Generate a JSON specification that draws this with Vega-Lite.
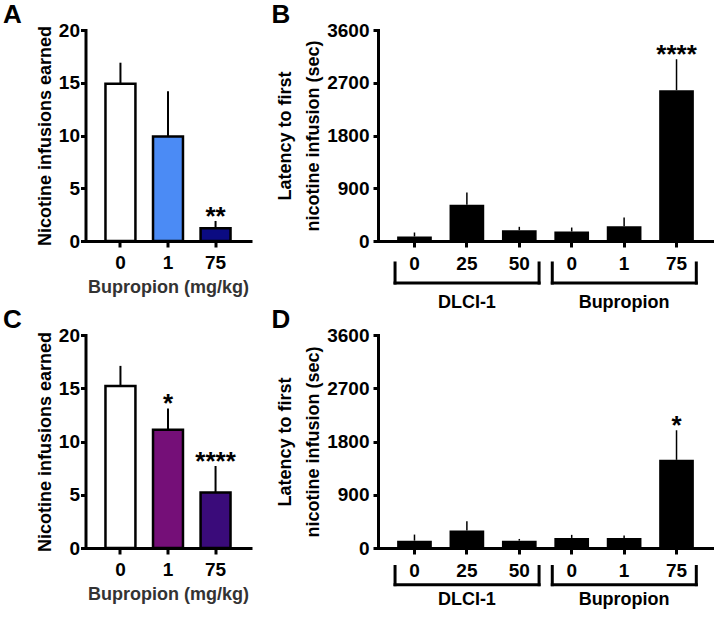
{
  "$schema": "https://vega.github.io/schema/vega-lite/v6.json",
  "background": "white",
  "padding": {"left": 2.5, "top": 2, "right": 0, "bottom": 0},
  "datasets": {
    "panelA": [
      {"dose": "0", "mean": 14.9, "upper": 16.9, "star": ""},
      {"dose": "1", "mean": 9.9, "upper": 14.2, "star": ""},
      {"dose": "75", "mean": 1.2, "upper": 1.9, "star": "**"}
    ],
    "panelC": [
      {"dose": "0", "mean": 15.2, "upper": 17.1, "star": ""},
      {"dose": "1", "mean": 11.1, "upper": 13.1, "star": "*"},
      {"dose": "75", "mean": 5.2, "upper": 7.7, "star": "****"}
    ],
    "panelB": [
      {"key": "D0", "group": "DLCI-1", "mean": 77, "upper": 145, "star": ""},
      {"key": "D25", "group": "DLCI-1", "mean": 618, "upper": 827, "star": ""},
      {"key": "D50", "group": "DLCI-1", "mean": 184, "upper": 242, "star": ""},
      {"key": "B0", "group": "Bupropion", "mean": 162, "upper": 230, "star": ""},
      {"key": "B1", "group": "Bupropion", "mean": 252, "upper": 401, "star": ""},
      {"key": "B75", "group": "Bupropion", "mean": 2573, "upper": 3101, "star": "****"}
    ],
    "panelD": [
      {"key": "D0", "group": "DLCI-1", "mean": 124, "upper": 227, "star": ""},
      {"key": "D25", "group": "DLCI-1", "mean": 295, "upper": 454, "star": ""},
      {"key": "D50", "group": "DLCI-1", "mean": 124, "upper": 153, "star": ""},
      {"key": "B0", "group": "Bupropion", "mean": 170, "upper": 222, "star": ""},
      {"key": "B1", "group": "Bupropion", "mean": 170, "upper": 210, "star": ""},
      {"key": "B75", "group": "Bupropion", "mean": 1490, "upper": 1990, "star": "*"}
    ],
    "brackets": [
      {"group": "DLCI-1", "first": "D0", "last": "D50", "mid": "D25"},
      {"group": "Bupropion", "first": "B0", "last": "B75", "mid": "B1"}
    ]
  },
  "columns": 2,
  "spacing": {"row": -5, "column": 20.5},
  "resolve": {"scale": {"x": "independent", "y": "independent", "fill": "independent"}},
  "concat": [
    {
      "title": {"text": "A", "dx": -82.5},
      "width": 165,
      "height": 211,
      "data": {"name": "panelA"},
      "encoding": {
        "x": {"field": "dose", "type": "nominal", "sort": null,
          "scale": {"domain": ["0", "1", "75"], "paddingInner": 0.37, "paddingOuter": 0.42},
          "axis": {"labelAngle": 0, "tickSize": 6, "labelPadding": 6, "title": "Bupropion (mg/kg)", "titleColor": "#333333", "titlePadding": 6}}
      },
      "layer": [
        {"mark": {"type": "bar", "stroke": "black", "strokeWidth": 2.5},
          "encoding": {
            "y": {"field": "mean", "type": "quantitative", "scale": {"domain": [0, 20], "nice": false},
              "axis": {"values": [0, 5, 10, 15, 20], "tickSize": 5, "labelPadding": 1, "title": "Nicotine infusions earned", "titlePadding": 4}},
            "fill": {"field": "dose", "type": "nominal", "scale": {"domain": ["0", "1", "75"], "range": ["#ffffff", "#4b8bf5", "#0b0b82"]}, "legend": null}
          }},
        {"mark": {"type": "rule", "strokeWidth": 2, "color": "black"},
          "encoding": {"y": {"field": "mean", "type": "quantitative"}, "y2": {"field": "upper"}}},
        {"mark": {"type": "text", "fontSize": 26, "fontWeight": "bold", "baseline": "alphabetic", "dy": 4, "color": "black"},
          "encoding": {"y": {"field": "upper", "type": "quantitative"}, "text": {"field": "star"}}}
      ]
    },
    {
      "title": {"text": "B", "dx": -106.5},
      "width": 335,
      "height": 211,
      "layer": [
        {"data": {"name": "panelB"}, "mark": {"type": "bar", "color": "black"},
          "encoding": {
            "x": {"field": "key", "type": "nominal", "title": null,
              "scale": {"domain": ["D0", "D25", "D50", "B0", "B1", "B75"], "paddingInner": 0.338, "paddingOuter": 0.365},
              "axis": {"labelExpr": "slice(datum.value, 1)", "labelAngle": 0, "tickSize": 6, "labelPadding": 7, "title": null}},
            "y": {"field": "mean", "type": "quantitative", "scale": {"domain": [0, 3600], "nice": false},
              "axis": {"values": [0, 900, 1800, 2700, 3600], "format": "d", "tickSize": 5, "labelPadding": 4, "title": ["Latency to first", "nicotine infusion (sec)"], "titleLineHeight": 28, "titlePadding": 4}}
          }},
        {"data": {"name": "panelB"}, "mark": {"type": "rule", "strokeWidth": 1.5, "color": "black"},
          "encoding": {"x": {"field": "key", "type": "nominal", "title": null}, "y": {"field": "mean", "type": "quantitative"}, "y2": {"field": "upper"}}},
        {"data": {"name": "panelB"}, "mark": {"type": "text", "fontSize": 26, "fontWeight": "bold", "baseline": "alphabetic", "dy": 4, "color": "black"},
          "encoding": {"x": {"field": "key", "type": "nominal", "title": null}, "y": {"field": "upper", "type": "quantitative"}, "text": {"field": "star"}}},
        {"data": {"name": "brackets"}, "mark": {"type": "rule", "strokeWidth": 3, "strokeCap": "square", "color": "black"},
          "encoding": {"x": {"field": "first", "type": "nominal", "bandPosition": -0.06, "title": null}, "x2": {"field": "last", "bandPosition": 1.07}, "y": {"datum": -717}}},
        {"data": {"name": "brackets"}, "mark": {"type": "rule", "strokeWidth": 3, "strokeCap": "square", "color": "black"},
          "encoding": {"x": {"field": "first", "type": "nominal", "bandPosition": -0.06, "title": null}, "y": {"datum": -375}, "y2": {"datum": -717}}},
        {"data": {"name": "brackets"}, "mark": {"type": "rule", "strokeWidth": 3, "strokeCap": "square", "color": "black"},
          "encoding": {"x": {"field": "last", "type": "nominal", "bandPosition": 1.07, "title": null}, "y": {"datum": -375}, "y2": {"datum": -717}}},
        {"data": {"name": "brackets"}, "mark": {"type": "text", "fontSize": 18, "fontWeight": "bold", "baseline": "middle", "color": "black"},
          "encoding": {"x": {"field": "mid", "type": "nominal", "title": null}, "y": {"datum": -1050}, "text": {"field": "group"}}}
      ]
    },
    {
      "title": {"text": "C", "dx": -82.5},
      "width": 165,
      "height": 213,
      "data": {"name": "panelC"},
      "encoding": {
        "x": {"field": "dose", "type": "nominal", "sort": null,
          "scale": {"domain": ["0", "1", "75"], "paddingInner": 0.37, "paddingOuter": 0.42},
          "axis": {"labelAngle": 0, "tickSize": 6, "labelPadding": 6, "title": "Bupropion (mg/kg)", "titleColor": "#333333", "titlePadding": 6}}
      },
      "layer": [
        {"mark": {"type": "bar", "stroke": "black", "strokeWidth": 2.5},
          "encoding": {
            "y": {"field": "mean", "type": "quantitative", "scale": {"domain": [0, 20], "nice": false},
              "axis": {"values": [0, 5, 10, 15, 20], "tickSize": 5, "labelPadding": 1, "title": "Nicotine infusions earned", "titlePadding": 4}},
            "fill": {"field": "dose", "type": "nominal", "scale": {"domain": ["0", "1", "75"], "range": ["#ffffff", "#750f78", "#3a0b7a"]}, "legend": null}
          }},
        {"mark": {"type": "rule", "strokeWidth": 2, "color": "black"},
          "encoding": {"y": {"field": "mean", "type": "quantitative"}, "y2": {"field": "upper"}}},
        {"mark": {"type": "text", "fontSize": 26, "fontWeight": "bold", "baseline": "alphabetic", "dy": 4, "color": "black"},
          "encoding": {"y": {"field": "upper", "type": "quantitative"}, "text": {"field": "star"}}}
      ]
    },
    {
      "title": {"text": "D", "dx": -106.5},
      "width": 335,
      "height": 213,
      "layer": [
        {"data": {"name": "panelD"}, "mark": {"type": "bar", "color": "black"},
          "encoding": {
            "x": {"field": "key", "type": "nominal", "title": null,
              "scale": {"domain": ["D0", "D25", "D50", "B0", "B1", "B75"], "paddingInner": 0.338, "paddingOuter": 0.365},
              "axis": {"labelExpr": "slice(datum.value, 1)", "labelAngle": 0, "tickSize": 6, "labelPadding": 7, "title": null}},
            "y": {"field": "mean", "type": "quantitative", "scale": {"domain": [0, 3600], "nice": false},
              "axis": {"values": [0, 900, 1800, 2700, 3600], "format": "d", "tickSize": 5, "labelPadding": 4, "title": ["Latency to first", "nicotine infusion (sec)"], "titleLineHeight": 28, "titlePadding": 4}}
          }},
        {"data": {"name": "panelD"}, "mark": {"type": "rule", "strokeWidth": 1.5, "color": "black"},
          "encoding": {"x": {"field": "key", "type": "nominal", "title": null}, "y": {"field": "mean", "type": "quantitative"}, "y2": {"field": "upper"}}},
        {"data": {"name": "panelD"}, "mark": {"type": "text", "fontSize": 26, "fontWeight": "bold", "baseline": "alphabetic", "dy": 4, "color": "black"},
          "encoding": {"x": {"field": "key", "type": "nominal", "title": null}, "y": {"field": "upper", "type": "quantitative"}, "text": {"field": "star"}}},
        {"data": {"name": "brackets"}, "mark": {"type": "rule", "strokeWidth": 3, "strokeCap": "square", "color": "black"},
          "encoding": {"x": {"field": "first", "type": "nominal", "bandPosition": -0.06, "title": null}, "x2": {"field": "last", "bandPosition": 1.07}, "y": {"datum": -620}}},
        {"data": {"name": "brackets"}, "mark": {"type": "rule", "strokeWidth": 3, "strokeCap": "square", "color": "black"},
          "encoding": {"x": {"field": "first", "type": "nominal", "bandPosition": -0.06, "title": null}, "y": {"datum": -313}, "y2": {"datum": -620}}},
        {"data": {"name": "brackets"}, "mark": {"type": "rule", "strokeWidth": 3, "strokeCap": "square", "color": "black"},
          "encoding": {"x": {"field": "last", "type": "nominal", "bandPosition": 1.07, "title": null}, "y": {"datum": -313}, "y2": {"datum": -620}}},
        {"data": {"name": "brackets"}, "mark": {"type": "text", "fontSize": 18, "fontWeight": "bold", "baseline": "middle", "color": "black"},
          "encoding": {"x": {"field": "mid", "type": "nominal", "title": null}, "y": {"datum": -879}, "text": {"field": "group"}}}
      ]
    }
  ],
  "config": {
    "font": "Liberation Sans",
    "view": {"stroke": null},
    "axis": {
      "grid": false,
      "domainColor": "black", "domainWidth": 3, "domainCap": "square",
      "tickColor": "black", "tickWidth": 3,
      "labelFont": "Liberation Sans", "labelFontSize": 19, "labelFontWeight": "bold", "labelColor": "black",
      "titleFont": "Liberation Sans", "titleFontSize": 18, "titleFontWeight": "bold", "titleColor": "black"
    },
    "title": {"font": "Liberation Sans", "fontSize": 26, "fontWeight": "bold", "anchor": "start", "frame": "group", "color": "black", "offset": -7}
  }
}
